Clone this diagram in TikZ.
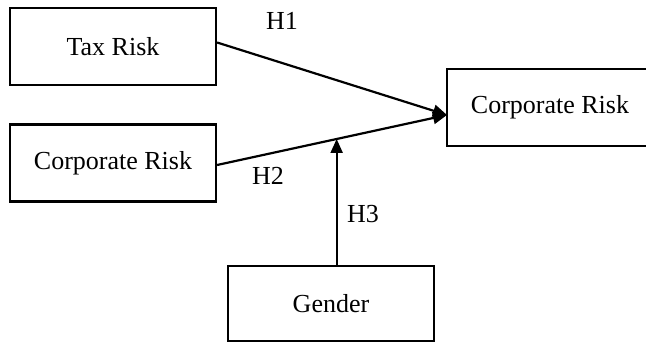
\documentclass[tikz,border=0pt]{standalone}
\usepackage{fontspec}
\setmainfont{Liberation Serif}
\usetikzlibrary{arrows.meta,calc}

\begin{document}
\begin{tikzpicture}[x=1pt,y=-1pt,>={Triangle[length=14pt,width=12pt]},
box/.style={draw,line width=2.2pt,minimum width=206pt,minimum height=77pt,inner sep=0pt},
every node/.style={font=\fontsize{26}{31}\selectfont}]
\useasboundingbox (0,0) rectangle (646,344);
\node[box] (tax) at (113,46.5) {Tax Risk};
\node[box] (corp) at (113,163) {Corporate Risk};
\node[box] (out) at (550,107.5) {Corporate Risk};
\node[box,minimum height=75pt] (gender) at (331,303.5) {Gender};
\coordinate (tip) at (447,115);
\coordinate (mod) at ($([yshift=-2pt]corp.east)!0.52!(tip)$);
\draw[line width=2.2pt,->]([yshift=4pt]tax.east)--(tip);
\draw[line width=2.2pt,->]([yshift=-2pt]corp.east)--(tip);
\draw[line width=2.2pt,->](mod |- gender.north)--(mod);
\draw(282,21)node(h1){H1}
(268,176)node(h2){H2}
(363,214)node(h3){H3};
\end{tikzpicture}
\end{document}
